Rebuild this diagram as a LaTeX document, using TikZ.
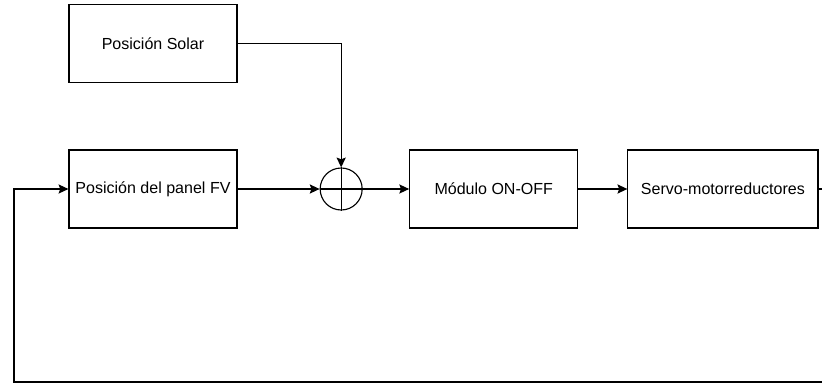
\documentclass[tikz,border=0pt]{standalone}
\usepackage{fontspec}
\setmainfont{Liberation Sans}
\usetikzlibrary{arrows.meta, positioning, calc}

\begin{document}
\begin{tikzpicture}[
      x=0.025cm, y=-0.025cm,
      font=\fontsize{11.4}{14}\selectfont,
      block/.style={rectangle, draw, line width=0.8pt, minimum width=4.2cm, minimum height=1.95cm, align=center, inner sep=2pt},
      sumnode/.style={circle, draw, line width=0.8pt, minimum size=1.05cm, inner sep=0pt},
      arrow/.style={-{Stealth[length=7pt, width=6.5pt, inset=1.2pt]}, line width=0.8pt}
    ]
    \useasboundingbox (0,0) rectangle (822,382);

    \node[block] (panel) at (153,189) {Posición del panel FV};
    \node[block, above=1.65cm of panel] (solar) {Posición Solar};
    \node[sumnode, right=2.05cm of panel] (sum) {};
    \node[block, right=1.16cm of sum] (onoff) {Módulo ON-OFF};
    \node[block, right=1.225cm of onoff, minimum width=4.75cm] (servo) {Servo-motorreductores};

    % cruz del sumador
    \draw[line width=0.8pt] (sum.north) -- (sum.south) (sum.west) -- (sum.east);

    \draw[arrow] (solar.east) -| (sum.north);
    \draw[arrow] (panel) -- (sum);
    \draw[arrow] (sum) -- (onoff);
    \draw[arrow] (onoff) -- (servo);

    % lazo de realimentacion
    \coordinate (fbright) at ($(servo.east)+(1cm,0)$);
    \coordinate (fbleft) at (14,382);
    \draw[arrow] (servo.east) -- (fbright) |- (fbleft) |- (panel.west);
  \end{tikzpicture}
\end{document}
